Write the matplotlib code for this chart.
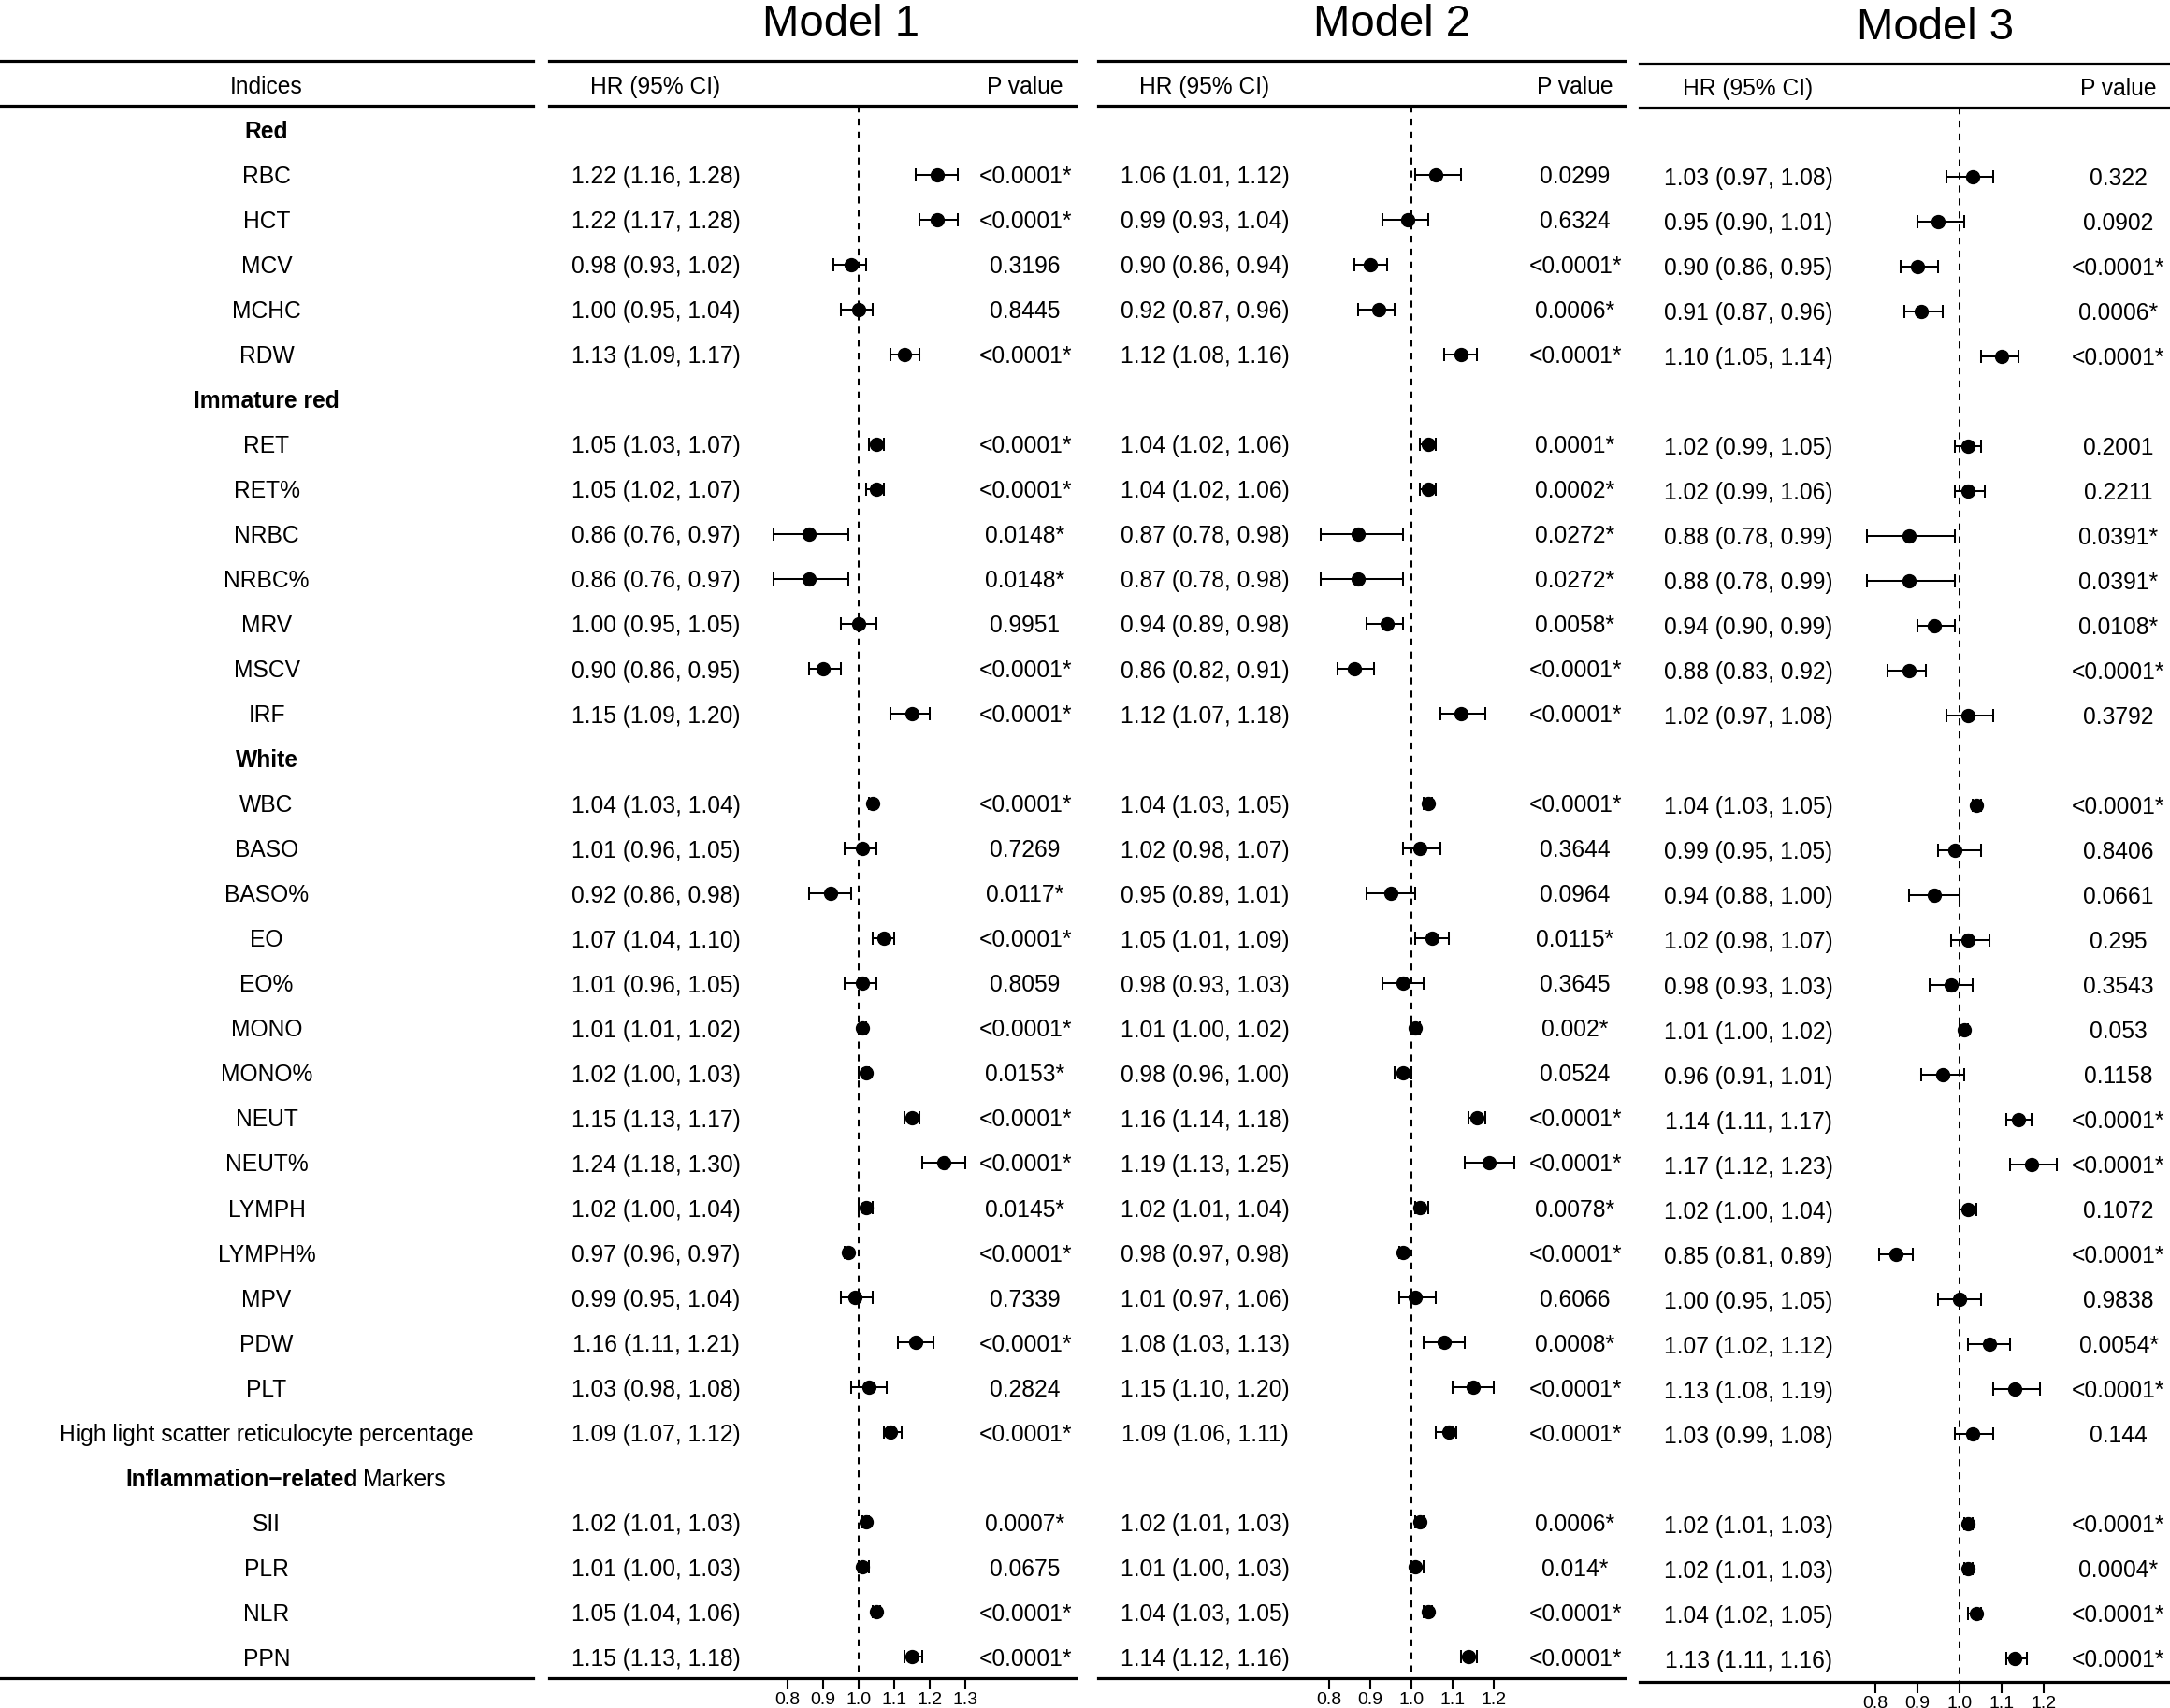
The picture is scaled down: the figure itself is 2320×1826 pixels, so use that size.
import numpy as np
import matplotlib
matplotlib.use('Agg')
import matplotlib.pyplot as plt
import matplotlib.transforms as mtransforms

plt.rcParams['font.family'] = ['Liberation Sans', 'DejaVu Sans']

# rows of the table (group headers included)
labels = ['Red', 'RBC', 'HCT', 'MCV', 'MCHC', 'RDW',
          'Immature red', 'RET', 'RET%', 'NRBC', 'NRBC%', 'MRV', 'MSCV', 'IRF',
          'White', 'WBC', 'BASO', 'BASO%', 'EO', 'EO%', 'MONO', 'MONO%', 'NEUT',
          'NEUT%', 'LYMPH', 'LYMPH%', 'MPV', 'PDW', 'PLT',
          'High light scatter reticulocyte percentage',
          'Inflammation\u2212related Markers', 'SII', 'PLR', 'NLR', 'PPN']
groups = ['Red', 'Immature red', 'White', 'Inflammation\u2212related Markers']

# Model 1
m1_hr = [1.22, 1.22, 0.98, 1.00, 1.13, 1.05, 1.05, 0.86, 0.86, 1.00, 0.90, 1.15,
         1.04, 1.01, 0.92, 1.07, 1.01, 1.01, 1.02, 1.15, 1.24, 1.02, 0.97, 0.99,
         1.16, 1.03, 1.09, 1.02, 1.01, 1.05, 1.15]
m1_lo = [1.16, 1.17, 0.93, 0.95, 1.09, 1.03, 1.02, 0.76, 0.76, 0.95, 0.86, 1.09,
         1.03, 0.96, 0.86, 1.04, 0.96, 1.01, 1.00, 1.13, 1.18, 1.00, 0.96, 0.95,
         1.11, 0.98, 1.07, 1.01, 1.00, 1.04, 1.13]
m1_hi = [1.28, 1.28, 1.02, 1.04, 1.17, 1.07, 1.07, 0.97, 0.97, 1.05, 0.95, 1.20,
         1.04, 1.05, 0.98, 1.10, 1.05, 1.02, 1.03, 1.17, 1.30, 1.04, 0.97, 1.04,
         1.21, 1.08, 1.12, 1.03, 1.03, 1.06, 1.18]
m1_p = ['<0.0001*', '<0.0001*', '0.3196', '0.8445', '<0.0001*', '<0.0001*',
        '<0.0001*', '0.0148*', '0.0148*', '0.9951', '<0.0001*', '<0.0001*',
        '<0.0001*', '0.7269', '0.0117*', '<0.0001*', '0.8059', '<0.0001*',
        '0.0153*', '<0.0001*', '<0.0001*', '0.0145*', '<0.0001*', '0.7339',
        '<0.0001*', '0.2824', '<0.0001*', '0.0007*', '0.0675', '<0.0001*', '<0.0001*']

# Model 2
m2_hr = [1.06, 0.99, 0.90, 0.92, 1.12, 1.04, 1.04, 0.87, 0.87, 0.94, 0.86, 1.12,
         1.04, 1.02, 0.95, 1.05, 0.98, 1.01, 0.98, 1.16, 1.19, 1.02, 0.98, 1.01,
         1.08, 1.15, 1.09, 1.02, 1.01, 1.04, 1.14]
m2_lo = [1.01, 0.93, 0.86, 0.87, 1.08, 1.02, 1.02, 0.78, 0.78, 0.89, 0.82, 1.07,
         1.03, 0.98, 0.89, 1.01, 0.93, 1.00, 0.96, 1.14, 1.13, 1.01, 0.97, 0.97,
         1.03, 1.10, 1.06, 1.01, 1.00, 1.03, 1.12]
m2_hi = [1.12, 1.04, 0.94, 0.96, 1.16, 1.06, 1.06, 0.98, 0.98, 0.98, 0.91, 1.18,
         1.05, 1.07, 1.01, 1.09, 1.03, 1.02, 1.00, 1.18, 1.25, 1.04, 0.98, 1.06,
         1.13, 1.20, 1.11, 1.03, 1.03, 1.05, 1.16]
m2_p = ['0.0299', '0.6324', '<0.0001*', '0.0006*', '<0.0001*', '0.0001*',
        '0.0002*', '0.0272*', '0.0272*', '0.0058*', '<0.0001*', '<0.0001*',
        '<0.0001*', '0.3644', '0.0964', '0.0115*', '0.3645', '0.002*', '0.0524',
        '<0.0001*', '<0.0001*', '0.0078*', '<0.0001*', '0.6066', '0.0008*',
        '<0.0001*', '<0.0001*', '0.0006*', '0.014*', '<0.0001*', '<0.0001*']

# Model 3
m3_hr = [1.03, 0.95, 0.90, 0.91, 1.10, 1.02, 1.02, 0.88, 0.88, 0.94, 0.88, 1.02,
         1.04, 0.99, 0.94, 1.02, 0.98, 1.01, 0.96, 1.14, 1.17, 1.02, 0.85, 1.00,
         1.07, 1.13, 1.03, 1.02, 1.02, 1.04, 1.13]
m3_lo = [0.97, 0.90, 0.86, 0.87, 1.05, 0.99, 0.99, 0.78, 0.78, 0.90, 0.83, 0.97,
         1.03, 0.95, 0.88, 0.98, 0.93, 1.00, 0.91, 1.11, 1.12, 1.00, 0.81, 0.95,
         1.02, 1.08, 0.99, 1.01, 1.01, 1.02, 1.11]
m3_hi = [1.08, 1.01, 0.95, 0.96, 1.14, 1.05, 1.06, 0.99, 0.99, 0.99, 0.92, 1.08,
         1.05, 1.05, 1.00, 1.07, 1.03, 1.02, 1.01, 1.17, 1.23, 1.04, 0.89, 1.05,
         1.12, 1.19, 1.08, 1.03, 1.03, 1.05, 1.16]
m3_p = ['0.322', '0.0902', '<0.0001*', '0.0006*', '<0.0001*', '0.2001', '0.2211',
        '0.0391*', '0.0391*', '0.0108*', '<0.0001*', '0.3792', '<0.0001*',
        '0.8406', '0.0661', '0.295', '0.3543', '0.053', '0.1158', '<0.0001*',
        '<0.0001*', '0.1072', '<0.0001*', '0.9838', '0.0054*', '<0.0001*',
        '0.144', '<0.0001*', '0.0004*', '<0.0001*', '<0.0001*']

m1_ticks = [0.8, 0.9, 1.0, 1.1, 1.2, 1.3]
m23_ticks = [0.8, 0.9, 1.0, 1.1, 1.2]

W, H = 2320, 1826
FS = 17.7
LW = 2.3
fig = plt.figure(figsize=(W / 100, H / 100), dpi=100)

data_rows = [i for i, l in enumerate(labels) if l not in groups]

# nudge text down a little so the glyphs sit centred on the row like the original
nudge = mtransforms.ScaledTranslation(0, -2.5 / 100, fig.dpi_scale_trans)


def panel(x0, x1, top, head, bot, row0, step=48.0, xlim=(0, 1)):
    ax = fig.add_axes([x0 / W, 1 - bot / H, (x1 - x0) / W, (bot - top) / H])
    ax.set_xlim(*xlim)
    ax.set_ylim((bot - row0) / step, (top - row0) / step)
    ax.patch.set_alpha(0)
    for s in ['left', 'right']:
        ax.spines[s].set_visible(False)
    for s in ['top', 'bottom']:
        ax.spines[s].set_linewidth(LW)
    ax.set_yticks([])
    ax.axhline((head - row0) / step, color='black', lw=LW, clip_on=False)
    trans = mtransforms.blended_transform_factory(ax.transAxes, ax.transData) + nudge
    fx = lambda px: (px - x0) / (x1 - x0)
    fy = lambda px: (px - row0) / step
    return ax, trans, fx, fy


# Indices column
ax, trans, fx, fy = panel(0, 570, 65, 113, 1794, 139)
ax.set_xticks([])
ax.text(fx(285), fy(91), 'Indices', ha='center', va='center', fontsize=FS, transform=trans)
for i, lab in enumerate(labels):
    if lab.startswith('Inflammation'):
        t1 = ax.text(fx(134), i, 'Inflammation\u2212related', ha='left', va='center',
                     fontsize=FS, fontweight='bold', transform=trans)
        ax.annotate('Markers', xy=(1, 0), xycoords=t1, xytext=(4.2, 0),
                    textcoords='offset points', ha='left', va='bottom', fontsize=FS)
    else:
        ax.text(fx(285), i, lab, ha='center', va='center', fontsize=FS,
                fontweight='bold' if lab in groups else 'normal', transform=trans)

# (name, hr, lo, hi, p, ticks, panel box, px of HR=1, px per HR unit,
#  title baseline, HR column, P column, title centre)
models = [
    ('Model 1', m1_hr, m1_lo, m1_hi, m1_p, m1_ticks,
     dict(x0=587, x1=1150, top=65, head=113, bot=1794, row0=139), 918, 380, 36, 701, 1096, 899),
    ('Model 2', m2_hr, m2_lo, m2_hi, m2_p, m23_ticks,
     dict(x0=1174, x1=1737, top=65, head=113, bot=1794, row0=139), 1509, 439, 36, 1288, 1684, 1488),
    ('Model 3', m3_hr, m3_lo, m3_hi, m3_p, m23_ticks,
     dict(x0=1753, x1=2320, top=68, head=115.5, bot=1798, row0=141), 2095, 452, 40, 1869, 2265, 2069),
]

for name, hr, lo, hi, pv, ticks, geo, ref_px, ppu, title_base, hr_px, p_px, t_px in models:
    x0, x1 = geo['x0'], geo['x1']
    xlim = (1 + (x0 - ref_px) / ppu, 1 + (x1 - ref_px) / ppu)
    ax, trans, fx, fy = panel(xlim=xlim, **geo)
    hr = np.array(hr)
    lo = np.array(lo)
    hi = np.array(hi)
    head_row = fy(geo['head'])
    bot_row = fy(geo['bot'])
    ax.vlines(1.0, head_row, bot_row, color='black', lw=1.45,
              linestyles=(0, (3.6, 3.3)))
    ax.errorbar(hr, data_rows, xerr=[hr - lo, hi - hr], fmt='o', color='black',
                ms=10, capsize=4.7, elinewidth=1.45, capthick=1.45)
    ax.set_xticks(ticks)
    ax.set_xticklabels(['%.1f' % t for t in ticks])
    ax.tick_params(axis='x', length=8.6, width=1.5, labelsize=14, pad=2)

    ax.text(fx(t_px), fy(title_base), name, ha='center', va='baseline', fontsize=34,
            transform=trans, clip_on=False)
    ax.text(fx(hr_px), fy(geo['row0'] - 48), 'HR (95% CI)', ha='center', va='center',
            fontsize=FS, transform=trans)
    ax.text(fx(p_px), fy(geo['row0'] - 48), 'P value', ha='center', va='center',
            fontsize=FS, transform=trans)
    for r, h, l, u, p in zip(data_rows, hr, lo, hi, pv):
        ax.text(fx(hr_px), r, '%.2f (%.2f, %.2f)' % (h, l, u), ha='center', va='center',
                fontsize=FS, transform=trans)
        ax.text(fx(p_px), r, p, ha='center', va='center', fontsize=FS, transform=trans)

fig.savefig('out.png', dpi=100)
